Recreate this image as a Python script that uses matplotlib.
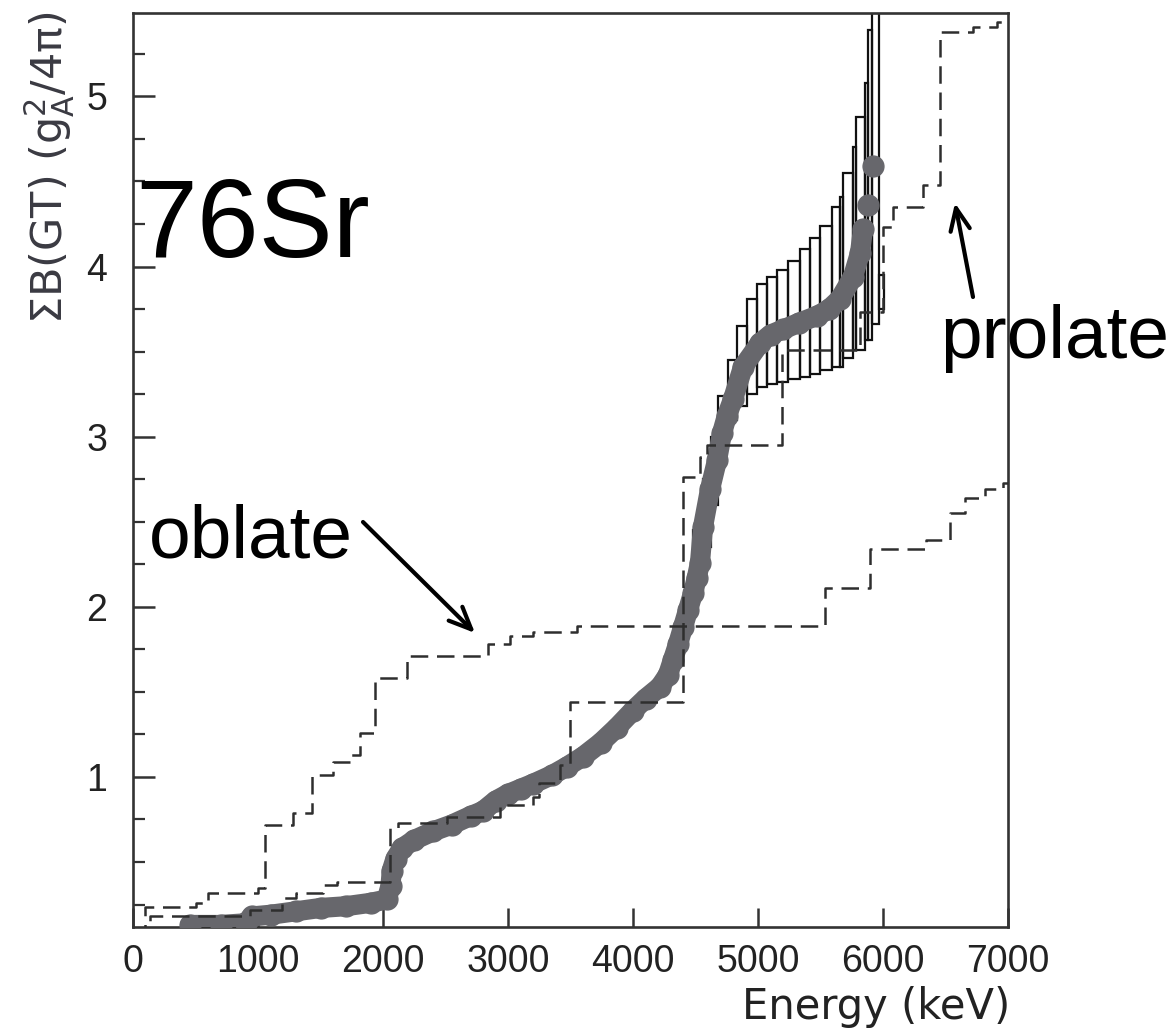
import matplotlib
matplotlib.use("Agg")
import matplotlib.pyplot as plt
from matplotlib.ticker import FixedLocator, MultipleLocator

plt.rcParams['font.family'] = ['Liberation Sans', 'DejaVu Sans']
plt.rcParams['mathtext.fontset'] = 'dejavusans'

# ---------------- data ----------------
# experimental cumulative B(GT): energy (keV) and sum B(GT)
exp_E = [456, 700, 900, 950, 1100, 1300, 1500, 1700, 1900, 2030, 2060, 2070,
         2100, 2150, 2250, 2400, 2550, 2700, 2800, 2900, 3000, 3100, 3200,
         3350, 3470, 3600, 3740, 3870, 4000, 4100, 4216, 4280, 4320, 4360,
         4400, 4440, 4480, 4510, 4536, 4560, 4616, 4672, 4712, 4750, 4800,
         4880, 5016, 5100, 5200, 5330, 5472, 5570, 5656, 5760, 5816, 5840]
exp_B = [0.13, 0.13, 0.14, 0.18, 0.19, 0.21, 0.23, 0.24, 0.26, 0.28, 0.36, 0.45,
         0.52, 0.58, 0.63, 0.68, 0.72, 0.77, 0.80, 0.86, 0.90, 0.93, 0.96,
         1.01, 1.06, 1.12, 1.20, 1.29, 1.39, 1.46, 1.53, 1.60, 1.69, 1.78,
         1.88, 1.98, 2.08, 2.17, 2.26, 2.47, 2.69, 2.86, 3.02, 3.12, 3.22,
         3.41, 3.55, 3.60, 3.63, 3.67, 3.71, 3.75, 3.81, 3.94, 4.08, 4.22]
exp_top_E = [5880, 5920]
exp_top_B = [4.36, 4.59]

# experimental uncertainty band (bin edges, lower and upper limits)
band_E = [4480, 4560, 4620, 4680, 4760, 4830, 4910, 4990, 5070, 5150, 5240,
          5335, 5415, 5495, 5590, 5656, 5680, 5760, 5784, 5856, 5880, 5912,
          5968, 6010]
band_up = [2.45, 2.75, 3.00, 3.24, 3.45, 3.65, 3.81, 3.90, 3.94, 3.98, 4.03,
           4.10, 4.17, 4.24, 4.35, 4.41, 4.55, 4.70, 4.88, 5.08, 5.39, 6.00,
           3.95]
band_lo = [2.10, 2.35, 2.60, 2.96, 3.10, 3.18, 3.25, 3.29, 3.31, 3.32, 3.34,
           3.35, 3.37, 3.39, 3.41, 3.41, 3.46, 3.51, 3.51, 3.57, 3.57, 3.66,
           3.75]

# theory: oblate shape
oblate_E = [0, 96, 505, 600, 1000, 1056, 1283, 1432, 1600, 1740, 1816, 1936,
            2192, 2840, 3016, 3200, 3552, 5536, 5896, 6340, 6536, 6656, 6816,
            6963, 7000]
oblate_B = [0.10, 0.235, 0.26, 0.32, 0.35, 0.72, 0.79, 1.01, 1.09, 1.13, 1.26,
            1.58, 1.71, 1.78, 1.83, 1.85, 1.89, 2.11, 2.34, 2.39, 2.55, 2.64,
            2.69, 2.73, 2.73]

# theory: prolate shape
prolate_E = [0, 136, 936, 1192, 1300, 1520, 1632, 2056, 2120, 2509, 2936, 3200,
             3250, 3416, 3496, 4400, 4536, 4589, 5189, 5816, 6000, 6080, 6320,
             6456, 6720, 6912, 7000]
prolate_B = [0.10, 0.18, 0.22, 0.29, 0.32, 0.365, 0.38, 0.70, 0.73, 0.765,
             0.835, 0.88, 0.965, 1.07, 1.44, 2.76, 2.88, 2.95, 3.51, 3.73,
             4.23, 4.35, 4.48, 5.38, 5.41, 5.44, 5.44]

x_ticks = [0, 1000, 2000, 3000, 4000, 5000, 6000, 7000]
x_ticklabels = ['0', '1000', '2000', '3000', '4000', '5000', '6000', '7000']
y_ticks = [1, 2, 3, 4, 5]
y_ticklabels = ['1', '2', '3', '4', '5']

# ---------------- figure ----------------
W, H = 1173, 1029
fig = plt.figure(figsize=(W / 100, H / 100), dpi=100)
ax = fig.add_axes([133 / W, 1 - 927 / H, 875 / W, 914 / H])

GRAY = '#67676c'
DASH = '#2e2e2e'

# uncertainty band as open boxes
widths = [band_E[i + 1] - band_E[i] for i in range(len(band_E) - 1)]
heights = [u - l for u, l in zip(band_up, band_lo)]
ax.bar(band_E[:-1], heights, width=widths, bottom=band_lo, align='edge',
       fill=False, edgecolor='#111111', linewidth=1.6, zorder=2)

# experimental points
ax.plot(exp_E, exp_B, color=GRAY, lw=14.5, solid_joinstyle='round',
        solid_capstyle='round', marker='o', ms=15, mec=GRAY, mfc=GRAY,
        zorder=3)
ax.plot(exp_top_E, exp_top_B, ls='none', marker='o', ms=15, mec=GRAY,
        mfc=GRAY, zorder=3)

# theory step lines
ax.step(oblate_E, oblate_B, where='post', color=DASH, lw=1.8,
        ls=(0, (7, 3.5)), zorder=4)
ax.step(prolate_E, prolate_B, where='post', color=DASH, lw=1.8,
        ls=(0, (7, 3.5)), zorder=4)

ax.set_xlim(0, 7000)
ax.set_ylim(0.118, 5.49)

# ticks
ax.xaxis.set_major_locator(FixedLocator(x_ticks))
ax.set_xticklabels(x_ticklabels)
ax.yaxis.set_major_locator(FixedLocator(y_ticks))
ax.set_yticklabels(y_ticklabels)
ax.yaxis.set_minor_locator(MultipleLocator(0.25))
ax.tick_params(axis='both', which='both', direction='in', top=False,
               right=False, color='#333333')
ax.tick_params(axis='x', which='major', length=14, width=1.8, pad=12,
               labelsize=27, labelcolor='#222222')
ax.tick_params(axis='y', which='major', length=16, width=1.8, pad=18.7,
               labelsize=27, labelcolor='#222222')
ax.tick_params(axis='y', which='minor', length=8.5, width=1.6)

for s in ax.spines.values():
    s.set_linewidth(1.9)
    s.set_color('#333333')

# axis labels
ax.set_xlabel('Energy (keV)', loc='right', fontsize=30,
              family='DejaVu Sans', color='#222222')
ax.xaxis.set_label_coords(1.002, -0.0646)
ax.set_ylabel('ΣB(GT) ($\\mathrm{g}_{\\mathrm{A}}^{2}$/4π)', loc='top',
              fontsize=31, family='DejaVu Sans', color='#3a3a42')
ax.yaxis.set_label_coords(-0.0646, 1.002)

# annotations (figure pixel coordinates)
fig.text(135 / W, 1 - 257 / H, '76Sr', fontsize=80, color='black',
         ha='left', va='baseline')
fig.text(149 / W, 1 - 557 / H, 'oblate', fontsize=54, color='black',
         ha='left', va='baseline')
fig.text(940 / W, 1 - 358 / H, 'prolate', fontsize=54, color='black',
         ha='left', va='baseline')

arrow = dict(arrowstyle='->,head_length=0.8,head_width=0.35', lw=3.0,
             color='black', mutation_scale=20, shrinkA=0, shrinkB=0)
ax.annotate('', xy=(475, H - 633), xytext=(363, H - 522),
            xycoords='figure pixels', textcoords='figure pixels',
            arrowprops=arrow)
ax.annotate('', xy=(955, H - 203), xytext=(973, H - 297),
            xycoords='figure pixels', textcoords='figure pixels',
            arrowprops=arrow)

fig.savefig('out.png', dpi=100)
